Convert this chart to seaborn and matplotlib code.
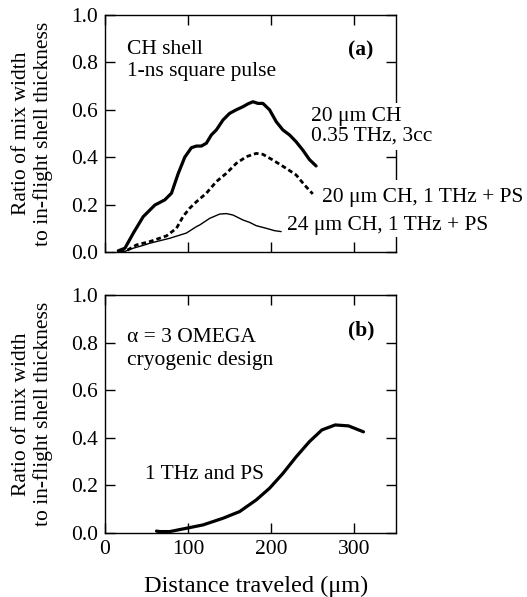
import numpy as np
import pandas as pd
import matplotlib
matplotlib.use("Agg")
import matplotlib.pyplot as plt
import seaborn as sns

# ---- data ----
# Panel (a): CH shell, 1-ns square pulse
a_thick_x = [16, 24, 34, 46, 60, 72, 80, 88, 96, 104, 110, 116, 122, 128, 134, 142,
             150, 158, 166, 172, 178, 184, 190, 198, 206, 214, 222, 230, 238, 246, 254]
a_thick_y = [0.005, 0.016, 0.079, 0.149, 0.198, 0.22, 0.248, 0.33, 0.40, 0.44, 0.447,
             0.447, 0.459, 0.494, 0.515, 0.557, 0.585, 0.60, 0.613, 0.625, 0.634, 0.627,
             0.627, 0.60, 0.55, 0.515, 0.494, 0.465, 0.43, 0.39, 0.363]

a_dash_x = [18, 26, 38, 54, 74, 86, 94, 102, 110, 122, 134, 146, 158, 170, 182, 190,
            202, 218, 230, 240, 250]
a_dash_y = [0.0, 0.006, 0.03, 0.044, 0.068, 0.10, 0.15, 0.185, 0.212, 0.248, 0.297,
            0.332, 0.374, 0.402, 0.416, 0.412, 0.388, 0.353, 0.325, 0.283, 0.245]

a_thin_x = [22, 34, 46, 54, 62, 78, 98, 110, 114, 126, 138, 146, 154, 166, 174, 182,
            194, 204, 212]
a_thin_y = [0.0, 0.016, 0.028, 0.037, 0.044, 0.058, 0.08, 0.107, 0.114, 0.142, 0.16,
            0.162, 0.156, 0.135, 0.125, 0.111, 0.10, 0.09, 0.086]

# Panel (b): alpha = 3 OMEGA cryogenic design
b_x = [62, 66, 78, 98, 118, 142, 162, 182, 198, 214, 230, 246, 261, 277, 293, 311]
b_y = [0.008, 0.006, 0.006, 0.02, 0.034, 0.062, 0.09, 0.139, 0.188, 0.25, 0.32,
       0.384, 0.433, 0.454, 0.45, 0.425]

x_ticks = [0, 100, 200, 300]
x_ticklabels = ["0", "100", "200", "300"]
y_ticks = [0.0, 0.2, 0.4, 0.6, 0.8, 1.0]
y_ticklabels = ["0.0", "0.2", "0.4", "0.6", "0.8", "1.0"]

ylabel = "Ratio of mix width\nto in-flight shell thickness"
xlabel = "Distance traveled (\u03bcm)"

# ---- style ----
sns.set_theme(style="ticks")
plt.rcParams["font.family"] = ["Liberation Serif", "DejaVu Serif"]
plt.rcParams["text.color"] = "black"
plt.rcParams["axes.labelcolor"] = "black"
plt.rcParams["xtick.color"] = "black"
plt.rcParams["ytick.color"] = "black"
FS = 15.5

fig = plt.figure(figsize=(5.27, 5.97), dpi=100)
ax1 = fig.add_axes([0.1992, 0.5779, 0.552, 0.397])
ax2 = fig.add_axes([0.1992, 0.1072, 0.552, 0.3987])

def df(x, y):
    return pd.DataFrame({"x": x, "y": y})

sns.lineplot(data=df(a_thick_x, a_thick_y), x="x", y="y", ax=ax1, color="black",
             lw=2.3, estimator=None, sort=False)
sns.lineplot(data=df(a_dash_x, a_dash_y), x="x", y="y", ax=ax1, color="black",
             lw=2.0, estimator=None, sort=False)
ax1.lines[-1].set_linestyle((0, (1.7, 1.1)))
sns.lineplot(data=df(a_thin_x, a_thin_y), x="x", y="y", ax=ax1, color="black",
             lw=1.0, estimator=None, sort=False)
sns.lineplot(data=df(b_x, b_y), x="x", y="y", ax=ax2, color="black",
             lw=2.3, estimator=None, sort=False)

for ax in (ax1, ax2):
    ax.set_xlim(0, 350)
    ax.set_ylim(0, 1.0)
    ax.set_xticks(x_ticks)
    ax.set_yticks(y_ticks)
    ax.set_yticklabels(y_ticklabels, fontsize=FS)
    ax.tick_params(direction="in", length=7, width=1.0, top=True, right=True,
                   colors="black", labelcolor="black", pad=5)
    for s in ax.spines.values():
        s.set_linewidth(1.0)
        s.set_color("black")
        s.set_zorder(2.5)
    ax.set_ylabel(ylabel, fontsize=FS, linespacing=1.15, color="black")
    ax.yaxis.set_label_coords(-0.178, 0.5)
    ax.set_facecolor("white")

ax1.set_xticklabels([])
ax1.set_xlabel("")
ax2.set_xticklabels(x_ticklabels, fontsize=FS)
ax2.set_xlabel(xlabel, fontsize=17.5, color="black")
ax2.xaxis.set_label_coords(0.519, -0.18)

# panel (a) texts
ax1.text(27, 0.855, "CH shell", fontsize=FS, va="center", ha="left", color="black")
ax1.text(27, 0.76, "1-ns square pulse", fontsize=FS, va="center", ha="left", color="black")
ax1.text(308, 0.852, "(a)", fontsize=FS, va="center", ha="center", fontweight="bold",
         color="black")
ax1.text(248, 0.53, "20 \u03bcm CH\n0.35 THz, 3cc", fontsize=FS, va="center", ha="left",
         linespacing=1.05, color="black",
         bbox=dict(facecolor="white", edgecolor="none", pad=3),
         zorder=5, clip_on=False)
ax1.text(261, 0.228, "20 \u03bcm CH, 1 THz + PS", fontsize=FS, va="center", ha="left",
         color="black", bbox=dict(facecolor="white", edgecolor="none", pad=6),
         zorder=5, clip_on=False)
ax1.text(219, 0.11, "24 \u03bcm CH, 1 THz + PS", fontsize=FS, va="center", ha="left",
         color="black", bbox=dict(facecolor="white", edgecolor="none", pad=1.0),
         zorder=6, clip_on=False)

# panel (b) texts
ax2.text(27, 0.82, "\u03b1 = 3 OMEGA", fontsize=FS, va="center", ha="left", color="black")
ax2.text(27, 0.725, "cryogenic design", fontsize=FS, va="center", ha="left", color="black")
ax2.text(308, 0.852, "(b)", fontsize=FS, va="center", ha="center", fontweight="bold",
         color="black")
ax2.text(48, 0.245, "1 THz and PS", fontsize=FS, va="center", ha="left", color="black")

fig.savefig("out.png", dpi=100)
